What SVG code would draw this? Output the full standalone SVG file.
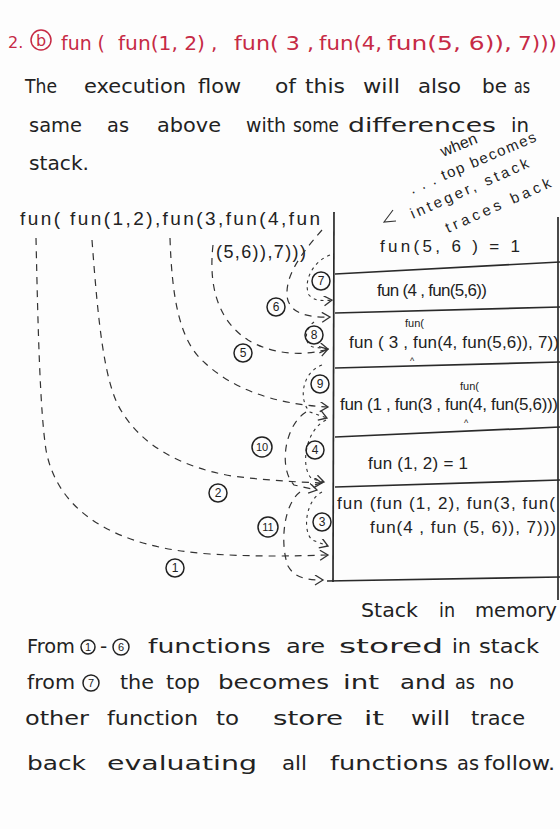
<svg xmlns="http://www.w3.org/2000/svg" width="560" height="829" viewBox="0 0 560 829">
<style>
.t{font-family:"DejaVu Sans","Liberation Sans",sans-serif;font-size:20px;fill:#222}
.red{fill:#c62a45}
.s{font-family:"Liberation Sans","DejaVu Sans",sans-serif;font-size:17px;fill:#222}
.a{font-family:"Liberation Sans","DejaVu Sans",sans-serif;font-size:15px;fill:#222}
.sup{font-family:"Liberation Sans","DejaVu Sans",sans-serif;font-size:11px;fill:#222}
.cc{fill:none;stroke:#222;stroke-width:1.5}
.ccr{fill:none;stroke:#c62a45;stroke-width:1.5}
.n{font-family:"Liberation Sans","DejaVu Sans",sans-serif;font-size:12px;fill:#222;text-anchor:middle}
.d{fill:none;stroke:#333;stroke-width:1.2;stroke-dasharray:7 6;marker-end:url(#ah)}
.dd{fill:none;stroke:#333;stroke-width:1.1;stroke-dasharray:3 4;marker-end:url(#ah)}
.ln{stroke:#2a2a2a;stroke-width:1.7;fill:none}
</style>
<defs>
<marker id="ah" markerWidth="12" markerHeight="12" refX="9" refY="5" orient="auto" markerUnits="userSpaceOnUse">
<path d="M1,0 L9,5 L1,10" fill="none" stroke="#333" stroke-width="1.3"/>
</marker>
</defs>
<rect width="560" height="829" fill="#fdfdfd"/>

<g id="title">
<text class="t red" x="8" y="48" style="font-size:16px">2.</text>
<circle class="ccr" cx="41" cy="40" r="10"/>
<text class="t red" x="41" y="46" text-anchor="middle" style="font-size:16px">b</text>
<text class="t red" x="61" y="50" textLength="44" lengthAdjust="spacingAndGlyphs">fun (</text>
<text class="t red" x="118" y="50" textLength="87" lengthAdjust="spacingAndGlyphs">fun(1, 2)</text>
<text class="t red" x="211" y="50">,</text>
<text class="t red" x="234" y="50" textLength="80" lengthAdjust="spacingAndGlyphs">fun( 3 ,</text>
<text class="t red" x="319" y="50" textLength="63" lengthAdjust="spacingAndGlyphs">fun(4,</text>
<text class="t red" x="387" y="50" textLength="125" lengthAdjust="spacingAndGlyphs">fun(5, 6)),</text>
<text class="t red" x="518" y="50" textLength="39" lengthAdjust="spacingAndGlyphs">7)))</text>
</g>

<g id="intro">
<text class="t" x="25" y="93" textLength="32" lengthAdjust="spacingAndGlyphs">The</text>
<text class="t" x="84" y="93" textLength="102" lengthAdjust="spacingAndGlyphs">execution</text>
<text class="t" x="198" y="93" textLength="43" lengthAdjust="spacingAndGlyphs">flow</text>
<text class="t" x="275" y="93" textLength="21" lengthAdjust="spacingAndGlyphs">of</text>
<text class="t" x="305" y="93" textLength="40" lengthAdjust="spacingAndGlyphs">this</text>
<text class="t" x="363" y="93" textLength="37" lengthAdjust="spacingAndGlyphs">will</text>
<text class="t" x="418" y="93" textLength="43" lengthAdjust="spacingAndGlyphs">also</text>
<text class="t" x="482" y="93" textLength="25" lengthAdjust="spacingAndGlyphs">be</text>
<text class="t" x="514" y="93" textLength="16" lengthAdjust="spacingAndGlyphs">as</text>
<text class="t" x="29" y="132" textLength="53" lengthAdjust="spacingAndGlyphs">same</text>
<text class="t" x="107" y="132" textLength="22" lengthAdjust="spacingAndGlyphs">as</text>
<text class="t" x="157" y="132" textLength="64" lengthAdjust="spacingAndGlyphs">above</text>
<text class="t" x="246" y="132" textLength="40" lengthAdjust="spacingAndGlyphs">with</text>
<text class="t" x="293" y="132" textLength="46" lengthAdjust="spacingAndGlyphs">some</text>
<text class="t" x="348" y="132" textLength="148" lengthAdjust="spacingAndGlyphs">differences</text>
<text class="t" x="511" y="132" textLength="18" lengthAdjust="spacingAndGlyphs">in</text>
<text class="t" x="29" y="170" textLength="60" lengthAdjust="spacingAndGlyphs">stack.</text>
</g>

<g id="note">
<text class="a" x="443" y="157" transform="rotate(-22 443 157)" style="font-size:16px">when</text>
<text class="a" x="412" y="194" transform="rotate(-23 412 194)" textLength="136">. . . top becomes</text>
<text class="a" x="413" y="219" transform="rotate(-24 413 219)" textLength="128">integer, stack</text>
<text class="a" x="448" y="233" transform="rotate(-24 448 233)" textLength="114">traces back</text>
<path d="M393,210 L384,222 L396,221" fill="none" stroke="#333" stroke-width="1.1"/>
</g>

<g id="expression">
<text class="s" x="20" y="225" textLength="300" style="font-size:19px">fun( fun(1,2),fun(3,fun(4,fun</text>
<text class="s" x="216" y="258" textLength="90" style="font-size:18px">(5,6)),7)))</text>
</g>

<g id="stack">
<path class="ln" d="M334,212 L333,582"/>
<path class="ln" d="M558,217 L558,600"/>
<path class="ln" d="M335,274 L560,262"/>
<path class="ln" d="M335,313 L560,307"/>
<path class="ln" d="M335,368 L560,362"/>
<path class="ln" d="M335,437 L560,427"/>
<path class="ln" d="M335,487 L560,480"/>
<path class="ln" d="M327,581 L560,577"/>
</g>

<g id="cell1"><text class="s" x="380" y="252" textLength="140">fun(5, 6 ) = 1</text></g>
<g id="cell2"><text class="s" x="377" y="296" textLength="110">fun (4 , fun(5,6))</text></g>
<g id="cell3">
<text class="sup" x="405" y="327">fun(</text>
<text class="s" x="349" y="348" textLength="210">fun ( 3 , fun(4, fun(5,6)), 7))</text>
<text class="sup" x="410" y="364" style="font-size:9px">^</text>
</g>
<g id="cell4">
<text class="sup" x="460" y="390">fun(</text>
<text class="s" x="340" y="410" textLength="218">fun (1 , fun(3 , fun(4, fun(5,6)))</text>
<text class="sup" x="464" y="426" style="font-size:9px">^</text>
</g>
<g id="cell5"><text class="s" x="368" y="469" textLength="100">fun (1, 2) = 1</text></g>
<g id="cell6">
<text class="s" x="337" y="509" textLength="218">fun (fun (1, 2), fun(3, fun(</text>
<text class="s" x="370" y="533" textLength="186">fun(4 , fun (5, 6)), 7)))</text>
</g>
<g id="stack-label">
<text class="t" x="361" y="617" textLength="57" lengthAdjust="spacingAndGlyphs">Stack</text>
<text class="t" x="439" y="617" textLength="16" lengthAdjust="spacingAndGlyphs">in</text>
<text class="t" x="475" y="617" textLength="82" lengthAdjust="spacingAndGlyphs">memory</text>
</g>

<g id="connectors">
<path class="d" d="M36,238 C38,330 40,410 46,450 C58,515 120,548 210,554 C260,557 295,556 328,555"/>
<path class="d" d="M92,240 C98,320 104,385 122,412 C142,445 180,467 232,476 C272,481 300,482 322,483"/>
<path class="d" d="M170,238 C172,300 180,342 205,363 C232,388 272,404 328,407"/>
<path class="d" d="M213,245 C208,290 220,322 248,340 C268,352 298,358 328,349"/>
<path class="d" d="M322,230 C300,255 286,275 287,295 C288,312 305,318 330,317"/>
<path class="dd" d="M330,255 C312,262 303,282 309,295 C314,301 322,301 332,300"/>
<path class="dd" d="M314,322 C303,330 305,345 313,347 L328,349"/>
<path class="dd" d="M322,365 C302,372 298,400 310,412 L327,418"/>
<path class="dd" d="M326,420 C305,430 300,468 312,479 L324,482"/>
<path class="d" d="M306,412 C285,425 278,468 294,485 L317,490"/>
<path class="dd" d="M322,492 C306,500 302,530 312,540 L328,546"/>
<path class="d" d="M300,492 C283,505 280,545 288,566 C294,577 305,580 323,580"/>
</g>

<g id="labels">
<circle class="cc" cx="321" cy="281" r="9"/><text class="n" x="321" y="285">7</text>
<circle class="cc" cx="276" cy="307" r="9"/><text class="n" x="276" y="311">6</text>
<circle class="cc" cx="314" cy="335" r="9"/><text class="n" x="314" y="339">8</text>
<circle class="cc" cx="243" cy="353" r="9"/><text class="n" x="243" y="357">5</text>
<circle class="cc" cx="320" cy="384" r="9"/><text class="n" x="320" y="388">9</text>
<circle class="cc" cx="262" cy="447" r="10"/><text class="n" x="262" y="451" style="font-size:11px">10</text>
<circle class="cc" cx="315" cy="450" r="9"/><text class="n" x="315" y="454">4</text>
<circle class="cc" cx="218" cy="493" r="9"/><text class="n" x="218" y="497">2</text>
<circle class="cc" cx="268" cy="527" r="10"/><text class="n" x="268" y="531" style="font-size:11px">11</text>
<circle class="cc" cx="322" cy="522" r="9"/><text class="n" x="322" y="526">3</text>
<circle class="cc" cx="175" cy="568" r="9"/><text class="n" x="175" y="572">1</text>
</g>

<g id="conclusion">
<text class="t" x="27" y="653" textLength="48" lengthAdjust="spacingAndGlyphs">From</text>
<circle class="cc" cx="88" cy="647" r="7"/><text class="n" x="88" y="651" style="font-size:11px">1</text>
<text class="t" x="100" y="653">-</text>
<circle class="cc" cx="121" cy="647" r="8"/><text class="n" x="121" y="651" style="font-size:11px">6</text>
<text class="t" x="148" y="653" textLength="123" lengthAdjust="spacingAndGlyphs">functions</text>
<text class="t" x="286" y="653" textLength="39" lengthAdjust="spacingAndGlyphs">are</text>
<text class="t" x="339" y="653" textLength="104" lengthAdjust="spacingAndGlyphs">stored</text>
<text class="t" x="452" y="653" textLength="19" lengthAdjust="spacingAndGlyphs">in</text>
<text class="t" x="479" y="653" textLength="60" lengthAdjust="spacingAndGlyphs">stack</text>

<text class="t" x="27" y="689" textLength="48" lengthAdjust="spacingAndGlyphs">from</text>
<circle class="cc" cx="91" cy="683" r="8"/><text class="n" x="91" y="687" style="font-size:11px">7</text>
<text class="t" x="120" y="689" textLength="34" lengthAdjust="spacingAndGlyphs">the</text>
<text class="t" x="166" y="689" textLength="34" lengthAdjust="spacingAndGlyphs">top</text>
<text class="t" x="218" y="689" textLength="111" lengthAdjust="spacingAndGlyphs">becomes</text>
<text class="t" x="343" y="689" textLength="36" lengthAdjust="spacingAndGlyphs">int</text>
<text class="t" x="400" y="689" textLength="46" lengthAdjust="spacingAndGlyphs">and</text>
<text class="t" x="455" y="689" textLength="20" lengthAdjust="spacingAndGlyphs">as</text>
<text class="t" x="489" y="689" textLength="25" lengthAdjust="spacingAndGlyphs">no</text>

<text class="t" x="25" y="725" textLength="64" lengthAdjust="spacingAndGlyphs">other</text>
<text class="t" x="107" y="725" textLength="91" lengthAdjust="spacingAndGlyphs">function</text>
<text class="t" x="216" y="725" textLength="23" lengthAdjust="spacingAndGlyphs">to</text>
<text class="t" x="273" y="725" textLength="70" lengthAdjust="spacingAndGlyphs">store</text>
<text class="t" x="364" y="725" textLength="20" lengthAdjust="spacingAndGlyphs">it</text>
<text class="t" x="411" y="725" textLength="39" lengthAdjust="spacingAndGlyphs">will</text>
<text class="t" x="471" y="725" textLength="54" lengthAdjust="spacingAndGlyphs">trace</text>

<text class="t" x="27" y="770" textLength="59" lengthAdjust="spacingAndGlyphs">back</text>
<text class="t" x="107" y="770" textLength="150" lengthAdjust="spacingAndGlyphs">evaluating</text>
<text class="t" x="282" y="770" textLength="25" lengthAdjust="spacingAndGlyphs">all</text>
<text class="t" x="330" y="770" textLength="118" lengthAdjust="spacingAndGlyphs">functions</text>
<text class="t" x="457" y="770" textLength="22" lengthAdjust="spacingAndGlyphs">as</text>
<text class="t" x="484" y="770" textLength="71" lengthAdjust="spacingAndGlyphs">follow.</text>
</g>
</svg>
